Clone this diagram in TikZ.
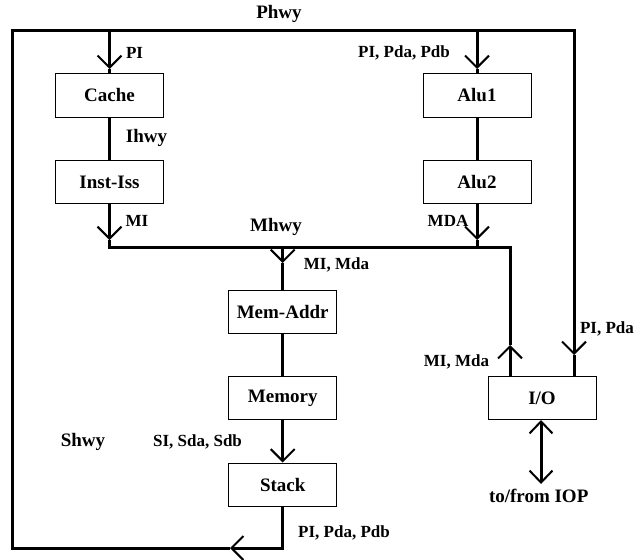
\documentclass[tikz,border=0pt]{standalone}
\usepackage{fontspec}
\setmainfont{Liberation Serif}
\usetikzlibrary{arrows.meta}
\begin{document}
\begin{tikzpicture}[x=1pt,y=-1pt,
  box/.style={draw,line width=1pt,minimum width=108pt,minimum height=43pt,inner sep=0pt,font=\fontsize{19}{22}\selectfont\bfseries},
  bus/.style={line width=3pt},
  vtip/.style={-{Straight Barb[length=12pt,width=24pt,line width=2pt]}},
  vboth/.style={{Straight Barb[length=12pt,width=23pt,line width=2pt]}-{Straight Barb[length=12pt,width=23pt,line width=2pt]}},
  lab/.style={inner sep=0pt,font=\fontsize{17}{20}\selectfont\bfseries},
  hwy/.style={inner sep=0pt,font=\fontsize{19}{22}\selectfont\bfseries}]
\useasboundingbox (0,0) rectangle (644,559);
% boxes
\node[box] (cache) at (109.5,95.5) {Cache};
\node[box] (inst) at (109.5,182) {Inst-Iss};
\node[box] (alu1) at (477,95.5) {Alu1};
\node[box] (alu2) at (477,182) {Alu2};
\node[box] (mema) at (282.7,312) {Mem-Addr};
\node[box] (mem) at (282.7,398) {Memory};
\node[box] (stack) at (282.7,484.5) {Stack};
\node[box] (io) at (542,398) {I/O};
\node[hwy] (iop) at (538.7,496) {to/from IOP};
% labels
\node[hwy] (lphwy) at (279,14) {Phwy};
\node[hwy] (lihwy) at (146.5,138) {Ihwy};
\node[hwy] (lmhwy) at (276,227) {Mhwy};
\node[hwy] (lshwy) at (83,442) {Shwy};
\node[lab] (lpi) at (134.5,53) {PI};
\node[lab] (lpa) at (404,53) {PI, Pda, Pdb};
\node[lab] (lmi) at (137,221) {MI};
\node[lab] (lmda) at (448,221) {MDA};
\node[lab] (lmm) at (336.5,265) {MI, Mda};
\node[lab] (lsi) at (197.5,442) {SI, Sda, Sdb};
\node[lab] (lps) at (344,533) {PI, Pda, Pdb};
\node[lab] (lpr) at (607,329) {PI, Pda};
\node[lab] (lmio) at (456.5,362) {MI, Mda};
% coordinates
\coordinate (tl) at (12,31);
\coordinate (tr) at (574,31);
\coordinate (bl) at (12,548);
\coordinate (pc) at (109.5,31);
\coordinate (pa) at (477,31);
\coordinate (ac) at (109.5,69);
\coordinate (aa) at (477,69);
\coordinate (mi) at (109.5,247);
\coordinate (ami) at (109.5,240);
\coordinate (mda) at (477,247);
\coordinate (amda) at (477,240);
\coordinate (mr) at (510,247);
\coordinate (mm) at (282.7,247);
\coordinate (amm) at (282.7,263);
\coordinate (aiu) at (510,345);
\coordinate (air) at (574,355);
\coordinate (sb) at (282.7,548);
\coordinate (asb) at (230,548);
\coordinate (iot) at (541,484);
% buses
\draw[bus,vtip] (asb) -- (bl) -- (tl) -- (tr) -- (air);
\draw[bus] (air) -- (io.north -| air);
\draw[bus,vtip] (stack.south) -- (sb) -- (asb);
\draw[bus,vtip] (pc) -- (ac);
\draw[bus] (ac) -- (cache.north);
\draw[bus,vtip] (pa) -- (aa);
\draw[bus] (aa) -- (alu1.north);
\draw[bus] (cache) -- (inst);
\draw[bus] (alu1) -- (alu2);
\draw[bus,vtip] (inst.south) -- (ami);
\draw[bus] (ami) -- (mi) -- (mr) -- (aiu);
\draw[bus,vtip] (io.north -| aiu) -- (aiu);
\draw[bus,vtip] (alu2.south) -- (amda);
\draw[bus] (amda) -- (mda);
\draw[bus,vtip] (mm) -- (amm);
\draw[bus] (amm) -- (mema.north);
\draw[bus] (mema) -- (mem);
\draw[bus,vtip] (mem.south) -- (stack.north);
\draw[bus,vboth] (io.south -| iot) -- (iot);
\end{tikzpicture}
\end{document}
